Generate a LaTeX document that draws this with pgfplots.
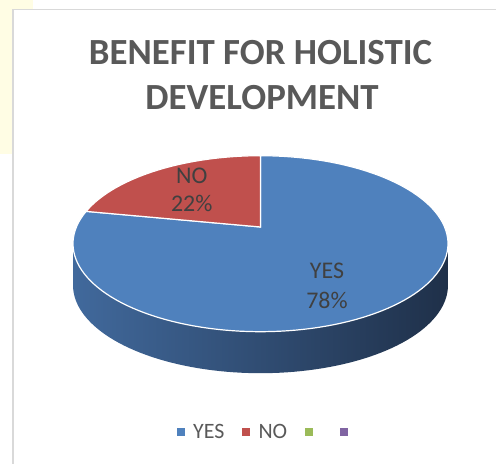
\documentclass[border=0pt]{standalone}
\usepackage{pgfplots}
\pgfplotsset{compat=1.18}
\usepackage{pgfplotstable}
\usepackage{fontspec}
\setmainfont{Carlito}
\definecolor{yesblue}{HTML}{4F81BD}
\definecolor{nored}{HTML}{C0504D}
\definecolor{exgreen}{HTML}{9BBB59}
\definecolor{expurple}{HTML}{8064A2}
\definecolor{sidel}{HTML}{41699C}
\definecolor{sider}{HTML}{1F3049}
\definecolor{titlegray}{HTML}{595959}
\definecolor{labelgray}{HTML}{404040}
\definecolor{framegray}{HTML}{D9D9D9}
\definecolor{wmyellow}{HTML}{FFFDE4}

\pgfplotstableread{
label value
YES 78
NO 22
}\piedata

\begin{document}
\begin{tikzpicture}
\pgfplotstablegetelem{0}{value}\of\piedata \let\vyes\pgfplotsretval
\pgfplotstablegetelem{1}{value}\of\piedata \let\vno\pgfplotsretval
% pie geometry (top ellipse, apex seen in perspective, depth of side)
\def\cx{260.5}\def\cy{220.3}\def\ra{187.5}\def\rb{88}\def\ay{237}\def\dep{41.5}
\pgfmathsetmacro{\dn}{(\ay-\cy)/\rb}
\pgfmathsetmacro{\thb}{90+3.6*\vno}
\pgfmathsetmacro{\sval}{-\dn*sin(\thb)+sqrt((\dn*sin(\thb))^2-\dn*\dn+1)}
\pgfmathsetmacro{\tb}{atan2(\dn+\sval*sin(\thb),\sval*cos(\thb))}
\useasboundingbox (0,0) rectangle (496bp,464bp);
\begin{axis}[
  at={(0,0)}, anchor=south west,
  scale only axis, width=496bp, height=464bp,
  xmin=0, xmax=496, ymin=0, ymax=464,
  axis lines=none, clip=false,
  legend columns=-1,
  legend style={at={(axis cs:267,32)}, anchor=center, draw=none, fill=none,
    font=\fontsize{22}{26}\selectfont, text=titlegray,
    nodes={inner sep=0pt},
    /tikz/every odd column/.append style={column sep=9bp},
    /tikz/every even column/.append style={column sep=17.5bp}},
]
% watermark traces and chart frame
\fill[wmyellow] (axis cs:0,464) rectangle (axis cs:33,455);
\fill[wmyellow] (axis cs:0,455) rectangle (axis cs:12,310);
\draw[framegray, line width=1.5bp] (axis cs:13,0) -- (axis cs:13,454.5) -- (axis cs:496,454.5);

% side of the pie
\addplot[forget plot, draw=none, left color=sidel, right color=sider, domain=180:360, samples=80]
  ({\cx+\ra*cos(x)},{\cy-\dep+\rb*sin(x)}) -- (axis cs:\cx+\ra,\cy) -- (axis cs:\cx-\ra,\cy) -- cycle;
% YES slice
\addplot[forget plot, fill=yesblue, draw=white, line width=1.2bp, domain=\tb:450, samples=120]
  ({\cx+\ra*cos(x)},{\cy+\rb*sin(x)}) -- (axis cs:\cx,\ay) -- cycle;
% NO slice
\addplot[forget plot, fill=nored, draw=white, line width=1.2bp, domain=90:\tb, samples=40]
  ({\cx+\ra*cos(x)},{\cy+\rb*sin(x)}) -- (axis cs:\cx,\ay) -- cycle;

% data labels
\node[anchor=base, text=labelgray, font=\fontsize{24}{28}\selectfont] at (axis cs:191.7,280.7) {NO};
\node[anchor=base, text=labelgray, font=\fontsize{24}{28}\selectfont] at (axis cs:191.7,252.3) {\vno\%};
\node[anchor=base, text=labelgray, font=\fontsize{24}{28}\selectfont] at (axis cs:327,185.7) {YES};
\node[anchor=base, text=labelgray, font=\fontsize{24}{28}\selectfont] at (axis cs:327,155.7) {\vyes\%};

% title
\node[anchor=base, text=titlegray, font=\bfseries\fontsize{37}{44}\selectfont] at (axis cs:260.5,399) {BENEFIT FOR HOLISTIC};
\node[anchor=base, text=titlegray, font=\bfseries\fontsize{37}{44}\selectfont] at (axis cs:262,354) {DEVELOPMENT};

% legend
\addlegendimage{legend image code/.code={\fill[yesblue] (-3.6bp,-3.6bp) rectangle (3.6bp,3.6bp);}}
\addlegendentry{YES}
\addlegendimage{legend image code/.code={\fill[nored] (-3.6bp,-3.6bp) rectangle (3.6bp,3.6bp);}}
\addlegendentry{NO}
\addlegendimage{legend image code/.code={\fill[exgreen] (-3.6bp,-3.6bp) rectangle (3.6bp,3.6bp);}}
\addlegendentry{\hspace*{0pt}}
\addlegendimage{legend image code/.code={\fill[expurple] (-3.6bp,-3.6bp) rectangle (3.6bp,3.6bp);}}
\addlegendentry{\hspace*{0pt}}
\end{axis}
\end{tikzpicture}
\end{document}
